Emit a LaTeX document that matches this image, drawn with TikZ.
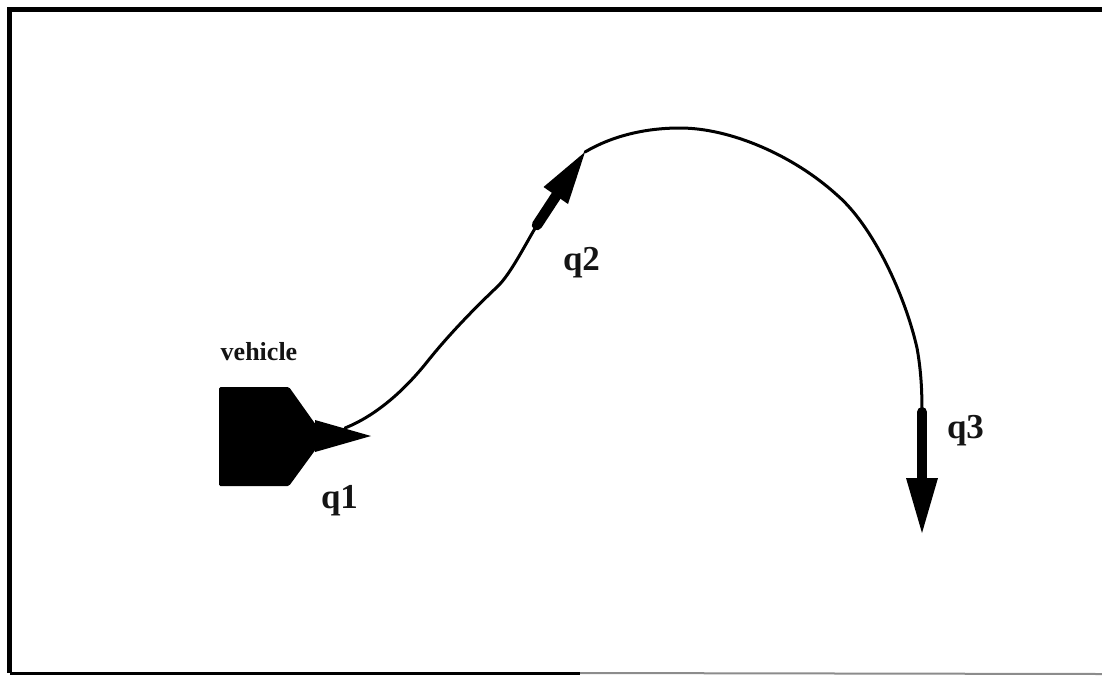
\documentclass[tikz,border=0pt]{standalone}
\usepackage{fontspec}
\setmainfont{Liberation Serif}
\begin{document}
\begin{tikzpicture}[x=1pt,y=-1pt,
  framestyle/.style={line width=5pt,line cap=butt},
  solidshape/.style={fill=black,draw=none},
  pathline/.style={line width=3pt,line cap=round,line join=round},
  bigl/.style={font=\bfseries\fontsize{35}{35}\selectfont,inner sep=0pt,anchor=base,text=black!92},
  smalll/.style={font=\bfseries\fontsize{26}{26}\selectfont,inner sep=0pt,anchor=base,text=black!92}]
\useasboundingbox (0,0) rectangle (1102,675);
% frame
\coordinate (ftr) at (1102,9);
\coordinate (ftl) at (9.5,9);
\coordinate (fbl) at (9.5,673);
\coordinate (fbm) at (580,673);
\coordinate (fbr) at (1102,674);
\draw[framestyle] (ftr) -- (ftl) -- (fbl);
\draw[line width=3pt] (fbl) -- (fbm);
\draw[line width=2pt,black!45] (fbm) -- (fbr);
% vehicle
\fill[solidshape,rounded corners=1.5pt] (219,387) -- (289,387) -- (316,425) -- (316,449) -- (289,486) -- (219,486) -- cycle;
\node[smalll] (vehiclelabel) at (259,360) {vehicle};
\coordinate (q1tip) at (371,436);
\fill[solidshape] (315,420) -- (q1tip) -- (315,452) -- cycle;
% path
\coordinate (q1p) at (345,428);
\coordinate (q2tail) at (537,225);
\coordinate (q2tip) at (585,152);
\coordinate (q3tail) at (922,412);
\draw[pathline] (q1p) .. controls (375,416) and (403,392) .. (427,362)
  .. controls (450,333) and (478,305) .. (497,287)
  .. controls (510,275) and (525,245) .. (q2tail);
\draw[pathline] (q2tip) .. controls (612,136) and (645,128) .. (680,128)
  .. controls (730,128) and (793,155) .. (837,195)
  .. controls (873,226) and (905,295) .. (917,348)
  .. controls (921,370) and (922,390) .. (q3tail);
% q2 arrow
\draw[line width=10.5pt,line cap=round] (q2tail) -- (556,196);
\fill[solidshape] (q2tip) -- (543.5,187) -- (568,204) -- cycle;
% q3 arrow
\draw[line width=10pt,line cap=round] (q3tail) -- (922,480);
\fill[solidshape] (906,478) -- (938,478) -- (922,533) -- cycle;
% labels
\node[bigl] (q1) at (339.5,508) {q1};
\node[bigl] (q2) at (581.5,270) {q2};
\node[bigl] (q3) at (965.5,438) {q3};
\end{tikzpicture}
\end{document}
